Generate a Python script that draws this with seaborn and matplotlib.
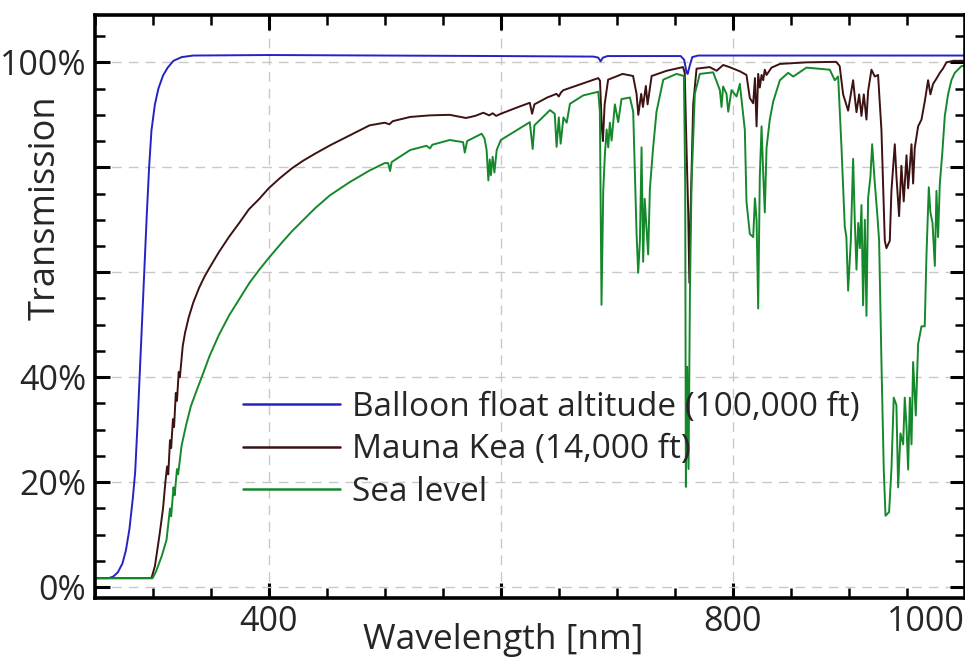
import matplotlib
matplotlib.use("Agg")
import matplotlib.pyplot as plt
from matplotlib.ticker import MultipleLocator
import seaborn as sns

# === Data (wavelength in nm, transmission in %) ===
balloon_nm = [250, 262, 266, 270, 274, 277, 280, 283, 285, 287, 289, 291, 293, 295,
              297, 299, 302, 305, 309, 313, 318, 325, 335, 400, 500, 600, 680, 684,
              686, 688, 692, 755, 758, 760, 761, 763, 765, 770, 1000]
balloon_pct = [1.7, 1.7, 2.0, 2.8, 4.5, 7, 11, 17, 22, 31, 41, 51, 61, 71,
               80, 87, 92, 95, 97.5, 99, 100.3, 101, 101.3, 101.4, 101.3, 101.2, 101.1, 100.9,
               100.2, 100.9, 101.2, 101.2, 100.5, 98.2, 97.8, 99.5, 101.0, 101.3, 101.3]

mauna_nm = [250, 299, 302, 306, 309, 311, 312.5, 313.5, 315, 316, 317.5, 318.5, 320, 321,
            322.5, 323.5, 326, 328, 331, 335, 340, 345, 350, 357, 366, 375, 383, 392, 400,
            410, 420, 430, 440, 453, 470, 487, 500, 504, 507, 522, 539, 556, 570, 578,
            585, 590, 593, 596, 600, 614, 625, 627, 629, 640, 648, 650, 652, 654, 671,
            684, 685.5, 687, 688, 689.5, 692.5, 705, 714, 717, 718.5, 721, 722.5, 725,
            726.5, 730, 743, 757, 758.5, 760, 761.5, 762.5, 763.5, 765.8, 768.7, 780,
            786, 791.6, 797, 806, 811.7, 814.6, 817.5, 819, 820.4, 821.8, 823.2, 824.7,
            826.1, 827.5, 829, 833.3, 840.5, 863, 889, 892, 895, 899.3, 903.6, 905,
            906.5, 908.8, 910.8, 912.8, 915.1, 916.5, 919.4, 922.3, 925.1, 928, 930.9,
            932.3, 935.2, 936.6, 939.5, 941, 943.2, 945.2, 947.2, 949.6, 951, 953.9,
            955.3, 956.7, 959.6, 962.5, 965.3, 968.2, 970.2, 972.5, 975.4, 978.3, 981,
            984, 990, 1000]
mauna_pct = [1.7, 1.7, 4, 10, 15, 20, 23, 21.5, 28, 26.5, 32, 30.5, 37, 35.5,
             41, 40, 46, 48.5, 51.3, 54.2, 57, 59.3, 61.2, 63.8, 66.8, 69.5, 72, 74, 76,
             78, 79.8, 81.3, 82.6, 84.2, 86.1, 88, 88.5, 88.2, 88.8, 89.6, 89.9, 90, 89.4, 89.8,
             90.4, 89.9, 90.3, 89.8, 90.2, 91.4, 92.3, 90.2, 92, 93.3, 94, 93.5, 94.3, 94.7, 96,
             97, 96.5, 88, 85, 92, 96.7, 97.8, 97.4, 94, 90, 94, 91.5, 95.5,
             92, 97.4, 98.4, 99.1, 98, 84, 71.5, 58, 71, 92, 98.8, 99.1,
             98.4, 99.5, 99.1, 98.3, 97.6, 93.2, 92.2, 97, 87.8, 97.8, 95.2, 97.6,
             96.6, 98.6, 97.6, 99, 99.7, 100, 100.1, 99.3, 93.9, 90.8, 96.6, 93.5,
             90.5, 93.9, 89.8, 93.9, 89.1, 94.5, 98.6, 97.3, 97.6, 87.1, 66,
             64.6, 66, 75.5, 84.4, 78, 70.7, 80.3, 73.5, 82.3, 76, 84.4,
             76.9, 83.7, 87.8, 89.1, 92.5, 96.6, 93.9, 95.9, 96.9, 98, 98.8,
             100, 100.3, 100.3]

sea_nm = [250, 300, 303, 308, 312, 315, 316, 318, 319, 321, 322, 325, 329, 333, 338,
          344, 349, 357, 366, 375, 383.5, 392, 400, 410, 420, 430, 440, 453, 470, 487,
          500, 503, 504.6, 506, 522, 536, 539, 541, 556, 567.5, 569, 571, 583.5, 586,
          587.8, 589.3, 590.5, 591.5, 593, 594.5, 596.5, 600, 614, 625, 627.5, 629,
          642.4, 646.5, 648.1, 650, 651.6, 654, 656.8, 659.6, 671, 684, 685.4, 686.8,
          688.3, 689.7, 691.2, 692.6, 694, 695.5, 698.3, 701.2, 704, 711.3, 714.1, 717,
          718.4, 719.9, 721.3, 722.7, 724, 727, 728.5, 731.3, 734.2, 740, 751.4, 757.8,
          758.9, 759.5, 760.6, 761.8, 763, 764.4, 767.2, 771.5, 783, 788.8, 790.2,
          791.6, 794.5, 796, 798.8, 803.2, 806, 810.3, 811.7, 814.6, 817.5, 819, 820.4,
          821.8, 823.2, 824.7, 826.1, 827.5, 829, 831.8, 834.7, 840.5, 847.6, 852,
          863.4, 883.5, 887.8, 890.7, 893.6, 896.4, 897.8, 899.3, 901.6, 903.6, 905,
          906.5, 908, 909.4, 910.8, 912.2, 913.7, 915.1, 916.5, 918.5, 920, 922.3,
          924.3, 926, 928, 930, 931.5, 934.6, 936.6, 938.6, 940.9, 942.4, 944.4, 946.7,
          948.1, 949.6, 951, 952.5, 953.9, 955.3, 957.6, 959.6, 962.5, 965.3, 966.8,
          968.8, 970.2, 972, 974, 975.4, 976.8, 978.3, 980.3, 982.6, 985.4, 988.3,
          991.2, 997, 1000]
sea_pct = [1.7, 1.7, 3, 6, 9, 15, 13.5, 19, 17.5, 22.5, 21.5, 27, 31, 34.5, 37.5,
           41, 44, 48, 51.8, 55, 58, 60.5, 62.7, 65.3, 67.8, 70, 72.2, 74.7, 77.2, 79.4,
           80.8, 80.8, 79.3, 81, 83.3, 84.1, 83.6, 84.3, 85.2, 84.8, 82.8, 85, 86.4, 85.5,
           83.3, 77.5, 81.5, 78.5, 82, 79, 83.3, 85.2, 87.1, 88.6, 83.5, 88,
           90.9, 90.2, 83.9, 89.5, 84.5, 89.5, 88.5, 92.1, 93.7, 94.4, 90.6, 53.8,
           75.6, 82.4, 87.2, 83.8, 88.5, 85.1, 92, 88.6, 93, 93.3, 90.6, 67.4,
           59.9, 66, 83.8, 62, 74, 63.4, 76, 83.8, 90.6, 96.7, 97.8, 97.4,
           77, 19.1, 42, 22.5, 56.5, 77, 94, 97.8, 98.1, 94.7, 91.5,
           95.4, 94, 90.6, 94.7, 93.5, 95.9, 87.1, 73.5, 67.3, 66.7, 74.1, 70,
           53.1, 78.2, 87.8, 79, 71.4, 83.7, 89.1, 92.5, 96.6, 98, 97.3,
           99, 98.6, 96.6, 97.3, 83.7, 68.7, 66.7, 56.5, 66, 81.6, 70,
           60.5, 69.4, 64.6, 72.8, 53.7, 70, 51.7, 74.1, 78.2, 84.4, 76.9,
           71.4, 66, 42.9, 22.4, 13.6, 14.3, 22.4, 36.1, 34.7, 19, 29.3, 27.2,
           36.1, 30.6, 22.4, 36.1, 27.2, 42.9, 32.7, 46.3, 49.7, 49.7, 63.3,
           76.2, 71.4, 69.4, 61.2, 75.5, 66.7, 76.9, 82.3, 89.8, 93.9, 96.6,
           98, 99.3, 99.3]

series_labels = ["Balloon float altitude (100,000 ft)", "Mauna Kea (14,000 ft)", "Sea level"]
x_ticks = [400, 600, 800, 1000]
x_tick_labels = ["400", "", "800", "1000"]
y_ticks = [0, 20, 40, 60, 80, 100]
y_tick_labels = ["0%", "20%", "40%", "", "", "100%"]

# === Style ===
sns.set_style("ticks")
plt.rcParams["font.family"] = ["Open Sans", "DejaVu Sans"]
text_color = "#262626"

fig = plt.figure(figsize=(9.65, 6.58), dpi=100)
ax = fig.add_axes([0.098, 0.091, 0.902, 0.886])

sns.lineplot(x=balloon_nm, y=balloon_pct, ax=ax, color="#2424c4", lw=1.4, label=series_labels[0])
sns.lineplot(x=mauna_nm, y=mauna_pct, ax=ax, color="#3d1212", lw=1.4, label=series_labels[1])
sns.lineplot(x=sea_nm, y=sea_pct, ax=ax, color="#16882c", lw=1.4, label=series_labels[2])

ax.set_xlim(250, 1000)
ax.set_ylim(-2.1, 109)

ax.set_xticks(x_ticks)
ax.set_xticklabels(x_tick_labels)
ax.set_yticks(y_ticks)
ax.set_yticklabels(y_tick_labels)
ax.xaxis.set_minor_locator(MultipleLocator(50))
ax.yaxis.set_minor_locator(MultipleLocator(5))
ax.get_xticklabels()[-1].set_horizontalalignment("right")

ax.grid(True, which="major", color="#c8c8c8", linestyle=(0, (7, 5)), linewidth=1.0)
ax.tick_params(which="both", direction="in", top=True, right=True, colors="black",
               labelcolor=text_color, labelsize=24.5)
ax.tick_params(which="major", length=11, width=2.2)
ax.tick_params(which="minor", length=7, width=1.8)
ax.tick_params(axis="x", pad=5)
ax.tick_params(axis="y", pad=6)
for side in ax.spines.values():
    side.set_linewidth(2.6)
    side.set_color("black")

ax.set_xlabel("Wavelength [nm]", fontsize=25.5, color=text_color)
ax.set_ylabel("Transmission", fontsize=26, color=text_color)
ax.xaxis.set_label_coords(0.47, -0.042)
ax.yaxis.set_label_coords(-0.036, 0.669)

leg = ax.legend(loc="upper left", bbox_to_anchor=(0.171, 0.355), frameon=False,
                fontsize=24, handlelength=2.9, handletextpad=0.36, labelspacing=0.28,
                borderpad=0, borderaxespad=0)
for line in leg.get_lines():
    line.set_linewidth(1.8)
for t in leg.get_texts():
    t.set_color(text_color)

fig.savefig("out.png", dpi=100)
